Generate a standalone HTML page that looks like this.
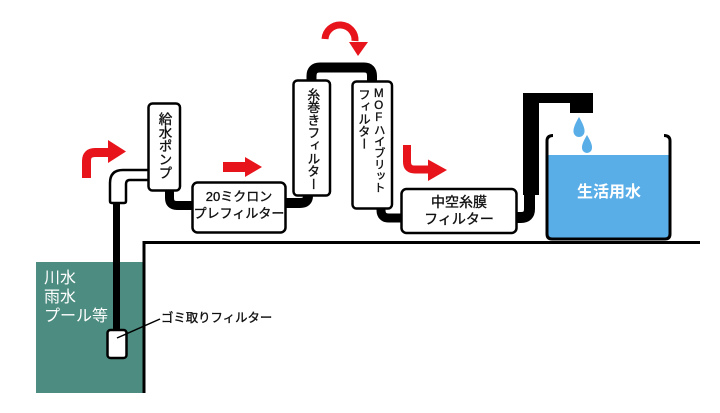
<!DOCTYPE html>
<html><head><meta charset="utf-8">
<style>
html,body{margin:0;padding:0;background:#fff;}
#c{position:relative;width:720px;height:413px;overflow:hidden;background:#fff;font-family:"Liberation Sans","Noto Sans CJK JP",sans-serif;}
svg{position:absolute;left:0;top:0;}
.t{position:absolute;white-space:nowrap;color:#111;-webkit-text-stroke:0.35px #111;}
.v{writing-mode:vertical-rl;text-orientation:upright;line-height:1;}
.h{text-align:center;}
.w{color:#fff;-webkit-text-stroke:0;}
</style></head><body>
<div id="c">
<svg width="720" height="413" viewBox="0 0 720 413">
  <rect x="36" y="262" width="109" height="131" fill="#4d8c80"/>
  <polyline points="144,393 144,242.5 700,242.5" fill="none" stroke="#000" stroke-width="3"/>
  <line x1="116.5" y1="332" x2="116.5" y2="202" stroke="#000" stroke-width="7"/>
  <rect x="107.5" y="330" width="19" height="28" rx="3" fill="#fff" stroke="#000" stroke-width="2.5"/>
  <line x1="117" y1="338" x2="160" y2="319" stroke="#000" stroke-width="1.5"/>
  <path d="M110,201 L110,183 Q110,170 123,170 L150,170 L150,180 L130,180 Q126,180 126,184 L126,201 Q126,203 124,203 L112,203 Q110,203 110,201 Z" fill="#fff" stroke="#000" stroke-width="2.5"/>
  <path d="M169.5,188 L169.5,198 Q169.5,205.5 177,205.5 L194,205.5" fill="none" stroke="#000" stroke-width="9"/>
  <path d="M308,194 L308,196 Q308,203 300,203 L284,203" fill="none" stroke="#000" stroke-width="10"/>
  <path d="M311.5,82 L311.5,76 Q311.5,67.5 320,67.5 L364,67.5 Q372,67.5 372,76 L372,83" fill="none" stroke="#000" stroke-width="10"/>
  <path d="M381,206 L381,210 Q381,218 389,218 L403,218" fill="none" stroke="#000" stroke-width="9"/>
  <path d="M515,217.5 L521,217.5 Q529.5,217.5 529.5,209 L529.5,188" fill="none" stroke="#000" stroke-width="11"/>
  <rect x="523" y="93" width="16" height="102" fill="#000"/>
  <rect x="523" y="93" width="70" height="10" fill="#000"/>
  <rect x="570" y="93" width="23" height="20" fill="#000"/>
  <rect x="148.5" y="103.5" width="31.5" height="87" rx="4" fill="#fff" stroke="#000" stroke-width="2.5"/>
  <rect x="192.5" y="182.5" width="93" height="50" rx="5" fill="#fff" stroke="#000" stroke-width="2.5"/>
  <rect x="293.5" y="80.5" width="36.5" height="115" rx="4" fill="#fff" stroke="#000" stroke-width="2.5"/>
  <rect x="352.5" y="81.5" width="39.5" height="127" rx="4" fill="#fff" stroke="#000" stroke-width="2.5"/>
  <rect x="401.5" y="189" width="115" height="44" rx="5" fill="#fff" stroke="#000" stroke-width="2.5"/>
  <rect x="548" y="155" width="121" height="83" fill="#5aaee8"/>
  <path d="M553,135.5 Q547,135.5 547,141 L547,234 Q547,239 552,239 L665,239 Q670,239 670,234 L670,141 Q670,135.5 664,135.5" fill="none" stroke="#000" stroke-width="3"/>
  <path d="M579,117 Q585,127 584.5,131.5 A5.5,5.5 0 0 1 573.5,131.5 Q573,127 579,117 Z" fill="#5aaee8"/>
  <path d="M587,135 Q592.5,144 592,148 A5,5 0 0 1 582,148 Q581.5,144 587,135 Z" fill="#5aaee8"/>
  <path d="M86.5,178 L86.5,161 Q86.5,152.5 95,152.5 L110,152.5" fill="none" stroke="#e8141c" stroke-width="9"/>
  <polygon points="108,140 126,151.5 108,163" fill="#e8141c"/>
  <rect x="223" y="162" width="24" height="10" fill="#e8141c"/>
  <polygon points="245,157 262,167 245,177" fill="#e8141c"/>
  <path d="M325,39 A15,15 0 0 1 355,41" fill="none" stroke="#e8141c" stroke-width="7"/>
  <polygon points="349,42 368,42 358,56" fill="#e8141c"/>
  <path d="M407,145 L407,162 Q407,169.5 415,169.5 L430,169.5" fill="none" stroke="#e8141c" stroke-width="8"/>
  <polygon points="428,159.5 447,170 428,181" fill="#e8141c"/>
</svg>

<div class="t v" style="left:157px;top:112px;font-size:13.5px;">給水ポンプ</div>
<div class="t h" style="left:192px;top:188px;width:94px;font-size:13px;line-height:17px;">20ミクロン<br>プレフィルター</div>
<div class="t v" style="left:305.5px;top:88px;font-size:12.8px;">糸巻きフィルター</div>
<div class="t v" style="left:372.25px;top:88px;font-size:11.5px;">MOFハイブリット</div>
<div class="t v" style="left:357px;top:88px;font-size:12.4px;">フィルター</div>
<div class="t h" style="left:401px;top:194px;width:116px;font-size:14px;line-height:17px;">中空糸膜<br>フィルター</div>
<div class="t h w" style="left:560px;top:183px;width:98px;font-size:16px;line-height:20px;font-weight:bold;">生活用水</div>
<div class="t w" style="left:44px;top:269px;font-size:16px;line-height:19px;">川水<br>雨水<br>プール等</div>
<div class="t" style="left:161px;top:310px;font-size:12.4px;line-height:16px;">ゴミ取りフィルター</div>
</div>
</body></html>
